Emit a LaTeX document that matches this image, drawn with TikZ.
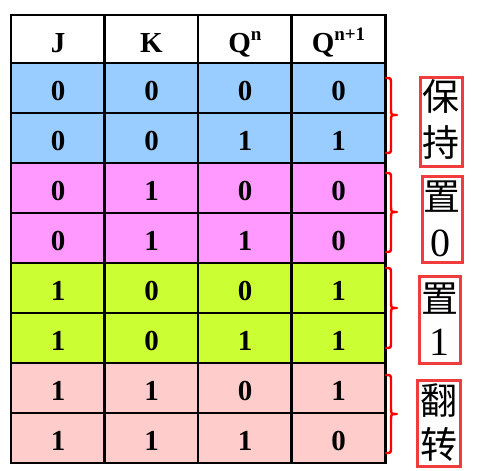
\documentclass[tikz,border=0pt]{standalone}
\usepackage{fontspec}
\setmainfont{Liberation Serif}
\newfontfamily\cjk{Noto Sans CJK SC}
\definecolor{blueC}{HTML}{99CCFF}
\definecolor{magC}{HTML}{FF99FF}
\definecolor{limeC}{HTML}{CCFF33}
\definecolor{pinkC}{HTML}{FFCCCC}
\definecolor{boxred}{HTML}{F03C3C}
\tikzset{
  cell/.style={draw=black, line width=2.2pt, rectangle, inner sep=0pt, minimum width=94pt,
    font=\fontsize{29}{29}\selectfont\bfseries},
  rowcell/.style={cell, minimum height=50pt, text height=24pt, text depth=0pt},
  headcell/.style={cell, fill=white, minimum height=48pt, text height=26pt, text depth=0pt},
  lblbox/.style={draw=boxred, line width=3pt, rectangle, inner sep=0pt},
  cjkch/.style={inner sep=0pt, font=\fontsize{37}{37}\selectfont\cjk},
  digch/.style={inner sep=0pt, anchor=base, font=\fontsize{40}{40}\selectfont},
  bracestyle/.style={draw=red, line width=2.4pt, line cap=round, line join=round}
}
\begin{document}
\begin{tikzpicture}[x=1pt,y=-1pt]
\useasboundingbox (0,0) rectangle (477,471);
% header
\node[headcell] (hJ) at (58,39) {J};
\node[headcell] (hK) at (151.5,39) {K};
\node[headcell] (hQ) at (245,39) {Q\raisebox{11pt}{\fontsize{19}{19}\selectfont n}};
\node[headcell] (hQ1) at (338.5,39) {Q\raisebox{11pt}{\fontsize{19}{19}\selectfont n+1}};
% rows
\foreach \r/\a/\b/\c/\d/\col in {1/0/0/0/0/blueC, 2/0/0/1/1/blueC, 3/0/1/0/0/magC, 4/0/1/1/0/magC,
  5/1/0/0/1/limeC, 6/1/0/1/1/limeC, 7/1/1/0/1/pinkC, 8/1/1/1/0/pinkC}{
  \node[rowcell, fill=\col] (r\r c1) at (58,{38+50*\r}) {\a};
  \node[rowcell, fill=\col] (r\r c2) at (151.5,{38+50*\r}) {\b};
  \node[rowcell, fill=\col] (r\r c3) at (245,{38+50*\r}) {\c};
  \node[rowcell, fill=\col] (r\r c4) at (338.5,{38+50*\r}) {\d};
}
% braces
\foreach \t/\b/\m in {78/153/115, 173/252/212, 268/348/308, 375/453/414}{
  \draw[bracestyle] (386,\t) .. controls (391,\t) .. (391,\t+6) -- (391,\m-6)
    .. controls (391,\m) .. (397,\m) .. controls (391,\m) .. (391,\m+6)
    -- (391,\b-6) .. controls (391,\b) .. (386,\b);
}
% label boxes
\node[lblbox, minimum width=42pt, minimum height=89pt] (b1) at (441,121.5) {};
\node[cjkch] (b1a) at (441,96.5) {保};
\node[cjkch] (b1b) at (441,142.5) {持};
\node[lblbox, minimum width=40pt, minimum height=86pt] (b2) at (442,219.5) {};
\node[cjkch] (b2a) at (442,196.5) {置};
\node[digch] (b2b) at (440,256) {0};
\node[lblbox, minimum width=41pt, minimum height=87pt] (b3) at (439.5,319.5) {};
\node[cjkch] (b3a) at (439.5,298.5) {置};
\node[digch] (b3b) at (439.5,355) {1};
\node[lblbox, minimum width=43pt, minimum height=86pt] (b4) at (438.5,423) {};
\node[cjkch] (b4a) at (438.5,401) {翻};
\node[cjkch] (b4b) at (438.5,444) {转};
\end{tikzpicture}
\end{document}
